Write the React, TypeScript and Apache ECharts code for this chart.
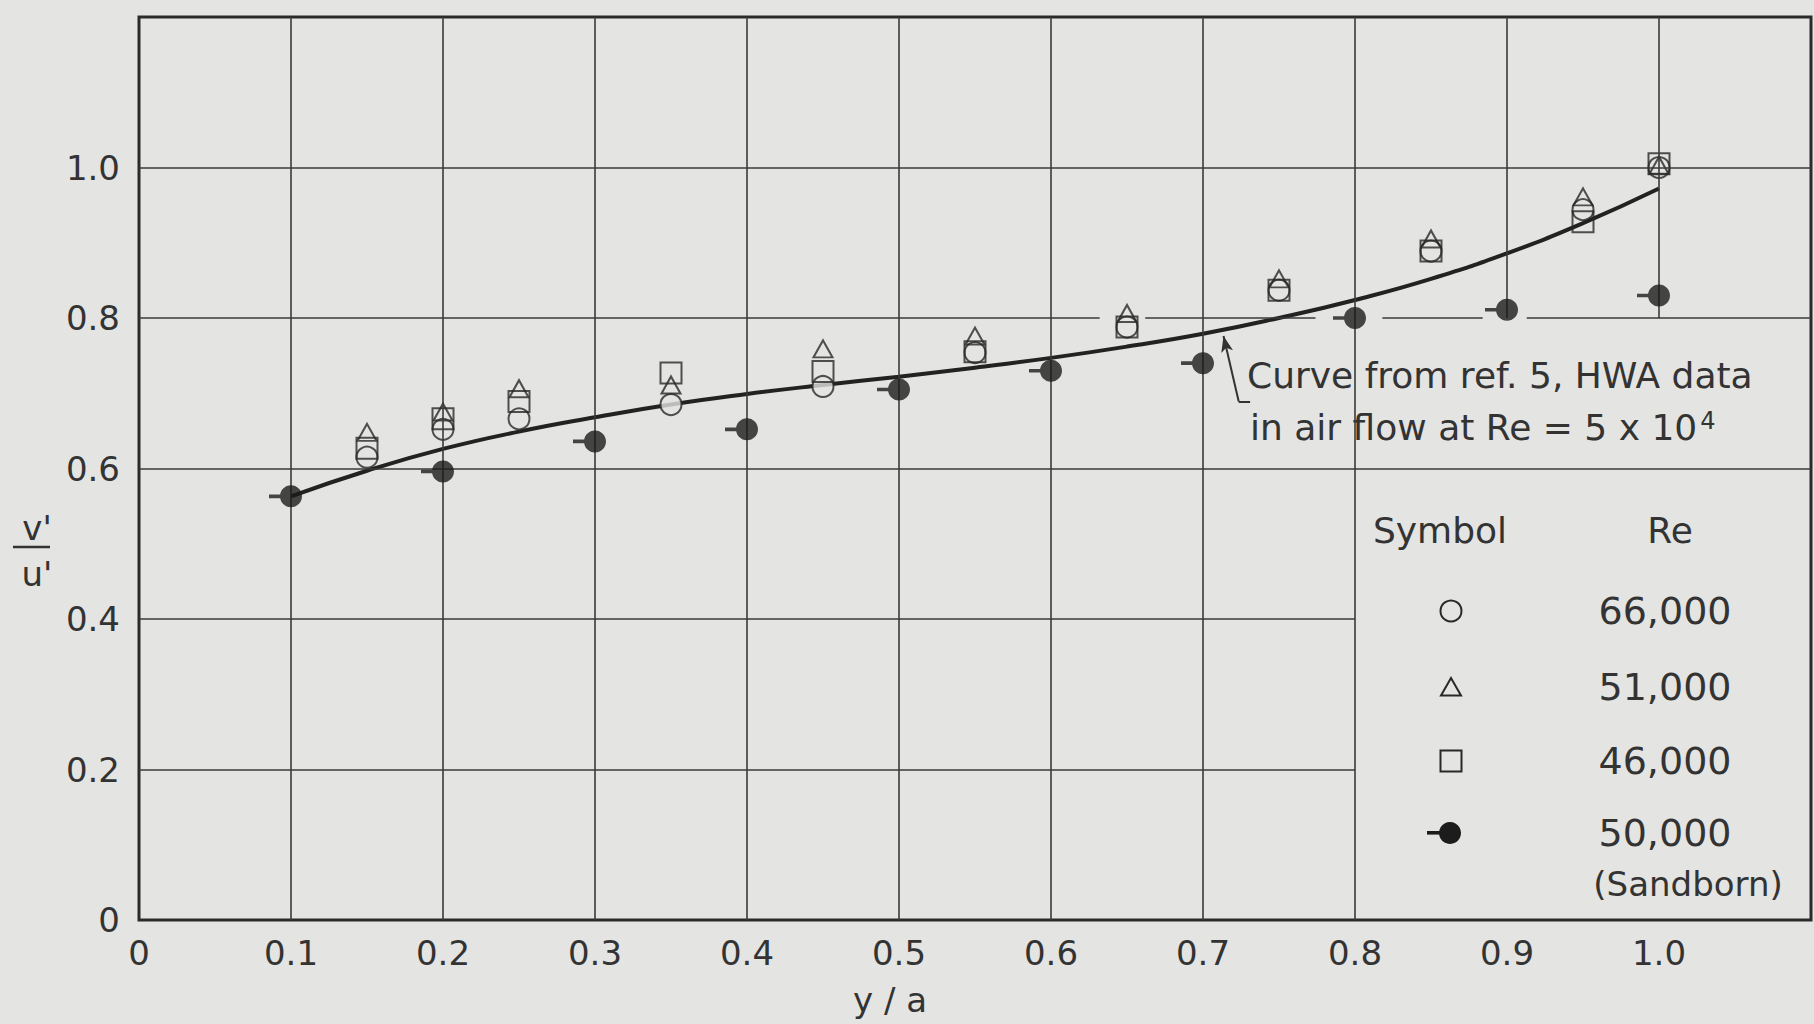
import React, { useEffect, useRef } from "react";
import * as echarts from "echarts";

// ---- data ----
const xTickLabels = ["0", "0.1", "0.2", "0.3", "0.4", "0.5", "0.6", "0.7", "0.8", "0.9", "1.0"];
const yTickLabels = ["0", "0.2", "0.4", "0.6", "0.8", "1.0"];

const xOpen = [0.15, 0.2, 0.25, 0.35, 0.45, 0.55, 0.65, 0.75, 0.85, 0.95, 1.0];
const re66000 = [0.615, 0.652, 0.666, 0.685, 0.709, 0.754, 0.788, 0.837, 0.889, 0.944, 1.0];
const re51000 = [0.648, 0.675, 0.706, 0.711, 0.759, 0.776, 0.806, 0.852, 0.905, 0.961, 1.003];
const re46000 = [0.627, 0.666, 0.689, 0.727, 0.729, 0.755, 0.788, 0.837, 0.889, 0.928, 1.005];

const xSandborn = [0.1, 0.2, 0.3, 0.4, 0.5, 0.6, 0.7, 0.8, 0.9, 1.0];
const re50000 = [0.563, 0.596, 0.636, 0.652, 0.705, 0.73, 0.74, 0.8, 0.811, 0.83];

const xCurve = [0.1, 0.15, 0.2, 0.25, 0.3, 0.35, 0.4, 0.45, 0.5, 0.55, 0.6, 0.65, 0.7, 0.75, 0.8, 0.85, 0.9, 0.95, 1.0];
const yCurve = [0.563, 0.597, 0.626, 0.649, 0.668, 0.685, 0.699, 0.711, 0.722, 0.734, 0.747, 0.762, 0.779, 0.8, 0.824, 0.852, 0.886, 0.926, 0.972];

// graph-paper rulings (data coordinates)
const vGridFull = [0.1, 0.2, 0.3, 0.4, 0.5, 0.6, 0.7, 0.8];
const vGridUpper = [0.9, 1.0];
const hGridShort = [0.2, 0.4];
const hGridFull = [0.6, 1.0];
const h08Segments = [
  [0, 0.632],
  [0.662, 0.774],
  [0.818, 0.884],
  [0.913, 1.1],
];

const PAPER = "#e4e4e2";
const INK = "#2a2a2a";
const GRIDC = "#3a3a3a";
const FONT = "DejaVu Sans";

const filledPath =
  "path://M0 9.2L11.5 9.2L11.5 12.8L0 12.8Z M33 11C33 17.075 28.075 22 22 22C15.925 22 11 17.075 11 11C11 4.925 15.925 0 22 0C28.075 0 33 4.925 33 11Z";

export default function App() {
  const ref = useRef<HTMLDivElement>(null);

  useEffect(() => {
    document.body.style.margin = "0";
    if (!ref.current) return;
    const chart = echarts.init(ref.current, undefined, { renderer: "svg" });

    const gridLines: any[] = [];
    vGridFull.forEach((x) => gridLines.push([{ coord: [x, 0] }, { coord: [x, 1.2] }]));
    vGridUpper.forEach((x) => gridLines.push([{ coord: [x, 0.8] }, { coord: [x, 1.2] }]));
    hGridShort.forEach((y) => gridLines.push([{ coord: [0, y] }, { coord: [0.8, y] }]));
    hGridFull.forEach((y) => gridLines.push([{ coord: [0, y] }, { coord: [1.1, y] }]));
    h08Segments.forEach((s) => gridLines.push([{ coord: [s[0], 0.8] }, { coord: [s[1], 0.8] }]));

    const zip = (xs: number[], ys: number[]) => xs.map((x, i) => [x, ys[i]]);

    const option: any = {
      animation: false,
      backgroundColor: PAPER,
      grid: {
        left: 139,
        right: 3,
        top: 17,
        bottom: 104,
        show: true,
        borderColor: INK,
        borderWidth: 3,
        backgroundColor: "transparent",
      },
      xAxis: {
        type: "value",
        min: 0,
        max: 1.1,
        interval: 0.1,
        axisLine: { show: false },
        axisTick: { show: false },
        splitLine: { show: false },
        axisLabel: {
          margin: 16,
          fontSize: 34,
          fontFamily: FONT,
          color: "#333",
          formatter: (v: number) => xTickLabels[Math.round(v * 10)] ?? "",
        },
      },
      yAxis: {
        type: "value",
        min: 0,
        max: 1.2,
        interval: 0.2,
        axisLine: { show: false },
        axisTick: { show: false },
        splitLine: { show: false },
        axisLabel: {
          margin: 19,
          fontSize: 34,
          fontFamily: FONT,
          color: "#333",
          formatter: (v: number) => yTickLabels[Math.round(v * 5)] ?? "",
        },
      },
      series: [
        {
          name: "rulings",
          type: "scatter",
          data: [[0, 0]],
          symbolSize: 0,
          silent: true,
          z: 1,
          markLine: {
            silent: true,
            symbol: ["none", "none"],
            label: { show: false },
            lineStyle: { type: "solid", width: 1.6, color: GRIDC },
            emphasis: { disabled: true },
            data: gridLines,
          },
        },
        {
          name: "Curve from ref. 5",
          type: "line",
          data: zip(xCurve, yCurve),
          smooth: 0.5,
          showSymbol: false,
          symbol: "none",
          lineStyle: { width: 4, color: "#222" },
          silent: true,
          z: 2,
          markLine: {
            silent: true,
            label: { show: false },
            lineStyle: { type: "solid", width: 2, color: "#333" },
            emphasis: { disabled: true },
            symbolSize: [9, 16],
            data: [
              [
                { coord: [0.731, 0.689], symbol: "none" },
                { coord: [0.7235, 0.689], symbol: "none" },
              ],
              [
                { coord: [0.7235, 0.689], symbol: "none" },
                { coord: [0.7135, 0.776], symbol: "arrow" },
              ],
            ],
          },
        },
        {
          name: "66,000",
          type: "scatter",
          data: zip(xOpen, re66000),
          symbol: "circle",
          symbolSize: 21,
          itemStyle: { color: PAPER, borderColor: "#282828", borderWidth: 2 },
          z: 3,
        },
        {
          name: "46,000",
          type: "scatter",
          data: zip(xOpen, re46000),
          symbol: "rect",
          symbolSize: 21,
          itemStyle: { color: "rgba(0,0,0,0)", borderColor: "#282828", borderWidth: 2 },
          z: 4,
        },
        {
          name: "51,000",
          type: "scatter",
          data: zip(xOpen, re51000),
          symbol: "triangle",
          symbolSize: [19, 17],
          itemStyle: { color: "rgba(0,0,0,0)", borderColor: "#282828", borderWidth: 2 },
          z: 4,
        },
        {
          name: "50,000 (Sandborn)",
          type: "scatter",
          data: zip(xSandborn, re50000),
          symbol: filledPath,
          symbolSize: [33, 22],
          symbolOffset: [-5.5, 0],
          itemStyle: { color: "#1c1c1c" },
          z: 5,
        },
      ],
      graphic: [
        // y-axis title  v'/u'
        {
          type: "text",
          x: 37,
          y: 528,
          style: { text: "v'", fontSize: 34, fontFamily: FONT, fill: "#333", align: "center", verticalAlign: "middle" },
        },
        {
          type: "line",
          shape: { x1: 13, y1: 547, x2: 50, y2: 547 },
          style: { stroke: "#333", lineWidth: 2.5 },
        },
        {
          type: "text",
          x: 37,
          y: 574,
          style: { text: "u'", fontSize: 34, fontFamily: FONT, fill: "#333", align: "center", verticalAlign: "middle" },
        },
        // x-axis title
        {
          type: "text",
          x: 890,
          y: 1000,
          style: { text: "y / a", fontSize: 34, fontFamily: FONT, fill: "#333", align: "center", verticalAlign: "middle" },
        },
        // curve annotation
        {
          type: "text",
          x: 1247,
          y: 375,
          style: {
            text: "Curve from ref. 5, HWA data",
            fontSize: 36,
            fontFamily: FONT,
            fill: "#333",
            align: "left",
            verticalAlign: "middle",
          },
        },
        {
          type: "text",
          x: 1250,
          y: 427,
          style: {
            text: "in air flow at Re = 5 x 10{sup|4}",
            fontSize: 36,
            fontFamily: FONT,
            fill: "#333",
            align: "left",
            verticalAlign: "middle",
            rich: {
              sup: { fontSize: 24, fontFamily: FONT, fill: "#333", verticalAlign: "top", padding: [0, 0, 0, 3] },
            },
          },
        },
        // legend header
        {
          type: "text",
          x: 1440,
          y: 530,
          style: { text: "Symbol", fontSize: 36, fontFamily: FONT, fill: "#333", align: "center", verticalAlign: "middle" },
        },
        {
          type: "text",
          x: 1670,
          y: 530,
          style: { text: "Re", fontSize: 36, fontFamily: FONT, fill: "#333", align: "center", verticalAlign: "middle" },
        },
        // legend symbols
        {
          type: "circle",
          shape: { cx: 1451, cy: 611, r: 10.5 },
          style: { fill: "none", stroke: "#282828", lineWidth: 2 },
        },
        {
          type: "polygon",
          shape: { points: [[1441, 695.5], [1461, 695.5], [1451, 678]] },
          style: { fill: "none", stroke: "#282828", lineWidth: 2 },
        },
        {
          type: "rect",
          shape: { x: 1440.5, y: 750.5, width: 21, height: 21 },
          style: { fill: "none", stroke: "#282828", lineWidth: 2 },
        },
        {
          type: "rect",
          shape: { x: 1427, y: 831, width: 14, height: 3.6 },
          style: { fill: "#1c1c1c" },
        },
        {
          type: "circle",
          shape: { cx: 1450, cy: 833, r: 11 },
          style: { fill: "#1c1c1c" },
        },
        // legend values
        ...[
          ["66,000", 611],
          ["51,000", 687],
          ["46,000", 761],
          ["50,000", 833],
        ].map(([t, y]) => ({
          type: "text",
          x: 1665,
          y: y as number,
          style: { text: t as string, fontSize: 38, fontFamily: FONT, fill: "#333", align: "center", verticalAlign: "middle" },
        })),
        {
          type: "text",
          x: 1688,
          y: 884,
          style: { text: "(Sandborn)", fontSize: 34, fontFamily: FONT, fill: "#333", align: "center", verticalAlign: "middle" },
        },
      ],
    };

    chart.setOption(option);
    return () => chart.dispose();
  }, []);

  return (
    <div
      ref={ref}
      style={{ position: "fixed", left: 0, top: 0, width: 1814, height: 1024, background: PAPER }}
    />
  );
}
